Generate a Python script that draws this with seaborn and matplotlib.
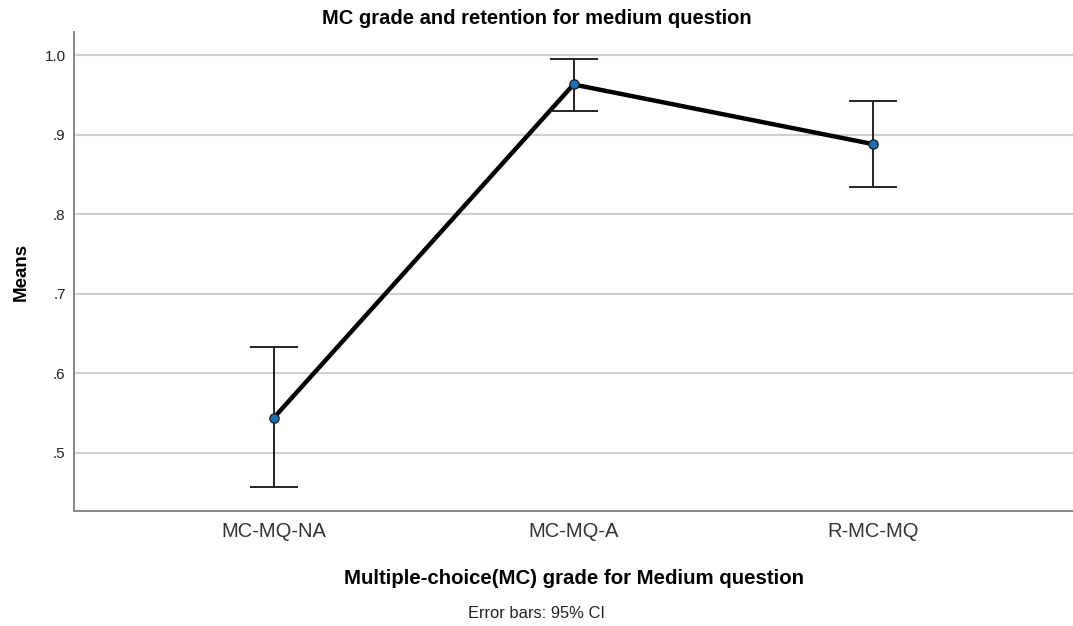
import matplotlib
matplotlib.use("Agg")
import matplotlib.pyplot as plt
import seaborn as sns
import pandas as pd
import numpy as np

categories = ["MC-MQ-NA", "MC-MQ-A", "R-MC-MQ"]
means = [0.544, 0.963, 0.888]
ci_low = [0.457, 0.930, 0.834]
ci_high = [0.633, 0.995, 0.942]
yticks = [0.5, 0.6, 0.7, 0.8, 0.9, 1.0]
ytick_labels = [".5", ".6", ".7", ".8", ".9", "1.0"]

sns.set_theme(style="white")
plt.rcParams['font.family'] = ['Liberation Sans', 'DejaVu Sans']

df = pd.DataFrame({"cat": categories, "mean": means})

fig = plt.figure(figsize=(10.73, 6.26), dpi=100)
ax = fig.add_axes([0.069, 0.1837, 0.931, 0.7652])

for y in yticks:
    ax.axhline(y, color="#cfcfcf", lw=1.5, zorder=0)

sns.pointplot(data=df, x="cat", y="mean", errorbar=None, color="black",
              linewidth=3.2, markers="", ax=ax, zorder=2)

xpos = np.arange(len(categories))
yerr = [np.array(means) - np.array(ci_low), np.array(ci_high) - np.array(means)]
ax.errorbar(xpos, means, yerr=yerr, fmt="none", ecolor="#222222",
            elinewidth=1.4, capsize=17.5, capthick=1.4, zorder=3)
ax.scatter(xpos, means, s=45, color="#1f6fb5", edgecolor="#1a1a1a",
           linewidth=0.9, zorder=4)

ax.set_xlim(-0.667, 2.667)
ax.set_ylim(0.4267, 1.029)
ax.set_yticks(yticks)
ax.set_yticklabels(ytick_labels, fontsize=11, color="#222222")
ax.tick_params(axis="x", labelsize=14.5, colors="#333333", length=0, pad=8)
ax.tick_params(axis="y", length=0, pad=6)

for s in ["top", "right"]:
    ax.spines[s].set_visible(False)
for s in ["left", "bottom"]:
    ax.spines[s].set_color("#888888")
    ax.spines[s].set_linewidth(1.4)

fig.text(0.5, 1 - 18 / 626, "MC grade and retention for medium question",
         ha="center", va="center", fontsize=14.5, fontweight="bold",
         color="black")
ax.set_ylabel("Means", fontsize=13.5, fontweight="bold", labelpad=11,
              color="black")
ax.set_xlabel("Multiple-choice(MC) grade for Medium question", fontsize=14.7,
              fontweight="bold", labelpad=20, color="black")
fig.text(0.5, 1 - 613 / 626, "Error bars: 95% CI", ha="center",
         va="center", fontsize=11.9, color="#222222")

fig.savefig("out.png", dpi=100)
